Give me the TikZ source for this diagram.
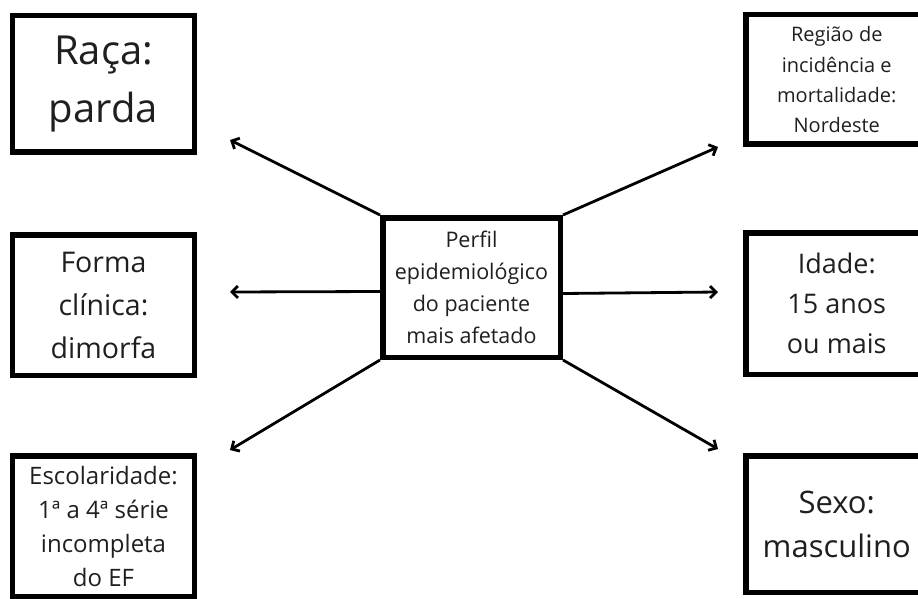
\documentclass[tikz,border=0pt]{standalone}
\usepackage{fontspec}
\setmainfont{Open Sans}
\usetikzlibrary{arrows.meta}
\tikzset{
  caixa/.style={draw, line width=5.5pt, minimum width=182pt, align=center, inner sep=0pt, text=black!88},
  seta/.style={->, line width=2.8pt}
}
\begin{document}
\begin{tikzpicture}[x=1pt, y=-1pt, >={Straight Barb[length=6pt,width=12pt]}]
 \useasboundingbox (0,0) rectangle (918,599);
 % caixa central
 \node[caixa, minimum width=177.5pt, minimum height=139.5pt, font=\fontsize{21.5}{32}\selectfont] (centro) at (471.5,287.5)
   {Perfil\\epidemiológico\\do paciente\\mais afetado};
 % lado esquerdo
 \node[caixa, minimum height=136.5pt, font=\fontsize{40}{58}\selectfont] (raca) at (103.5,84) {Raça:\\parda};
 \node[caixa, minimum height=140.5pt, font=\fontsize{28.5}{43}\selectfont] (forma) at (103.5,305) {Forma\\clínica:\\dimorfa};
 \node[caixa, minimum height=141pt, font=\fontsize{24}{34}\selectfont] (escol) at (103.5,526.5)
   {Escolaridade:\\1ª a 4ª série\\incompleta\\do EF};
 % lado direito
 \node[caixa, minimum height=129.5pt, font=\fontsize{20}{30}\selectfont] (regiao) at (836.75,79.5)
   {Região de\\incidência e\\mortalidade:\\Nordeste};
 \node[caixa, minimum height=141.5pt, font=\fontsize{27}{40}\selectfont] (idade) at (836.75,303.5) {Idade:\\15 anos\\ou mais};
 \node[caixa, minimum height=136.5pt, font=\fontsize{31}{44}\selectfont] (sexo) at (836.75,524) {Sexo:\\masculino};
 % pontas das setas
 \coordinate (fimNO) at (230,140);
 \coordinate (fimO) at (230,292);
 \coordinate (fimSO) at (230,450);
 \coordinate (fimNE) at (718,147);
 \coordinate (fimE) at (718,292);
 \coordinate (fimSE) at (718,449);
 \draw[seta] (centro.north west) -- (fimNO);
 \draw[seta] ([yshift=-4pt]centro.west) -- (fimO);
 \draw[seta] (centro.south west) -- (fimSO);
 \draw[seta] (centro.north east) -- (fimNE);
 \draw[seta] ([yshift=-6pt]centro.east) -- (fimE);
 \draw[seta] (centro.south east) -- (fimSE);
\end{tikzpicture}
\end{document}
